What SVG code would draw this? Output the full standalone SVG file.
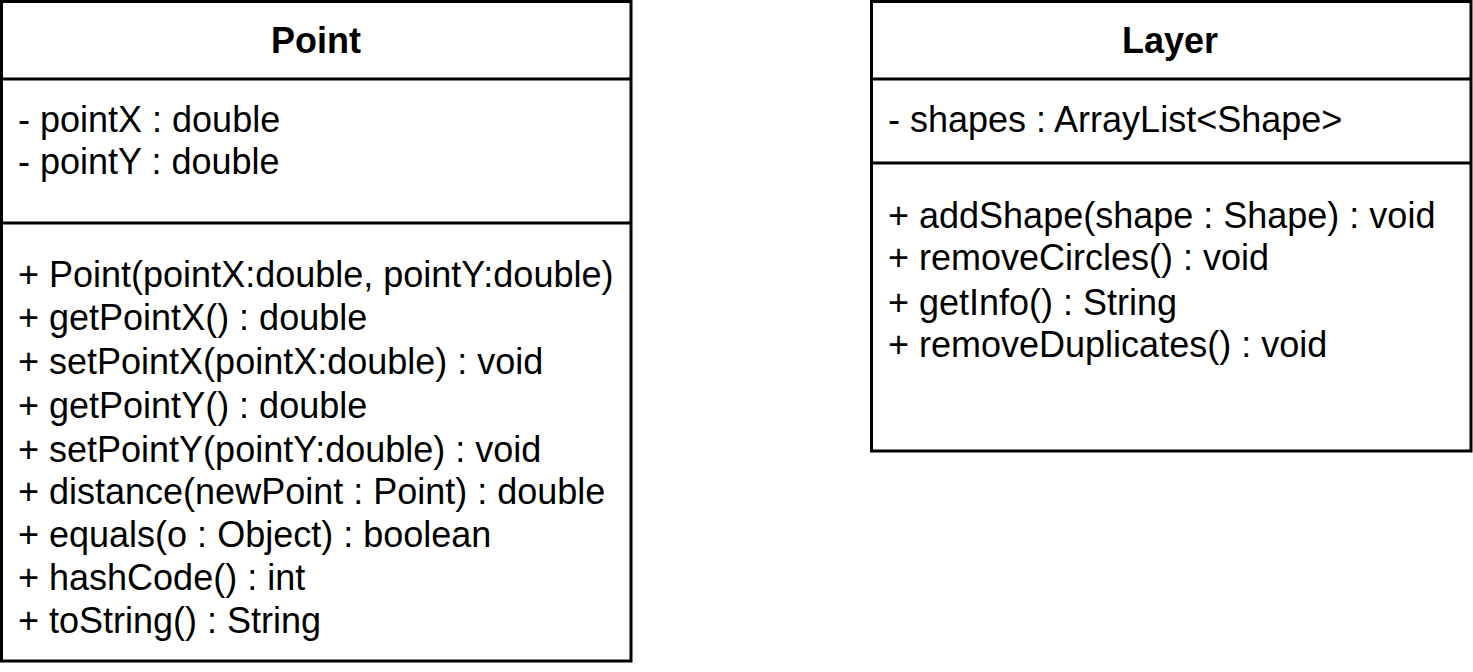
<svg xmlns="http://www.w3.org/2000/svg" width="1473" height="672" viewBox="0 0 1473 672">
<style>
.box{fill:#fff;stroke:#000;stroke-width:3}
.div{stroke:#000;stroke-width:3;fill:none}
.t{font-family:"Liberation Sans",Arial,sans-serif;font-size:36px;fill:#000}
.h{font-family:"Liberation Sans",Arial,sans-serif;font-size:36px;font-weight:bold;fill:#000;text-anchor:middle}
</style>
<rect width="1473" height="672" fill="#fff"/>
<g id="Point">
<rect class="box" x="1.5" y="1.5" width="629.5" height="659.5"/>
<line class="div" x1="1.5" y1="79" x2="631" y2="79"/>
<line class="div" x1="1.5" y1="223" x2="631" y2="223"/>
<text class="h" x="316" y="53">Point</text>
<text class="t" x="18" y="132">- pointX : double</text>
<text class="t" x="18" y="174">- pointY : double</text>
<text class="t" x="18" y="287">+ Point(pointX:double, pointY:double)</text>
<text class="t" x="18" y="330">+ getPointX() : double</text>
<text class="t" x="18" y="374">+ setPointX(pointX:double) : void</text>
<text class="t" x="18" y="418">+ getPointY() : double</text>
<text class="t" x="18" y="462">+ setPointY(pointY:double) : void</text>
<text class="t" x="18" y="504">+ distance(newPoint : Point) : double</text>
<text class="t" x="18" y="547">+ equals(o : Object) : boolean</text>
<text class="t" x="18" y="590">+ hashCode() : int</text>
<text class="t" x="18" y="633">+ toString() : String</text>
</g>
<g id="Layer">
<rect class="box" x="871.5" y="1.5" width="599.5" height="449.5"/>
<line class="div" x1="871.5" y1="79" x2="1471" y2="79"/>
<line class="div" x1="871.5" y1="163" x2="1471" y2="163"/>
<text class="h" x="1170" y="53">Layer</text>
<text class="t" x="888" y="132">- shapes : ArrayList&lt;Shape&gt;</text>
<text class="t" x="888" y="228">+ addShape(shape : Shape) : void</text>
<text class="t" x="888" y="270">+ removeCircles() : void</text>
<text class="t" x="888" y="315">+ getInfo() : String</text>
<text class="t" x="888" y="357">+ removeDuplicates() : void</text>
</g>
<g id="connectors"/>
</svg>
